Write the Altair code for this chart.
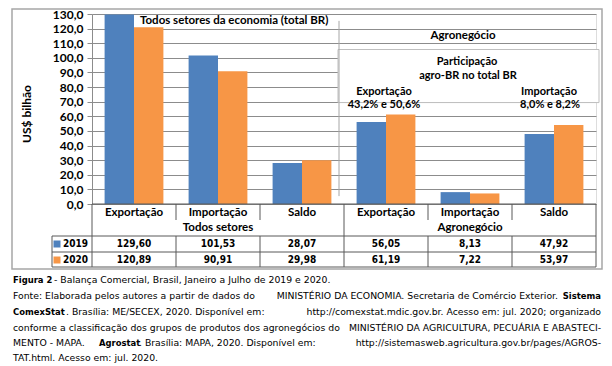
import altair as alt
import pandas as pd

# ---------------- data ----------------
keys = ["T_Exp", "T_Imp", "T_Sal", "A_Exp", "A_Imp", "A_Sal"]
cat_labels = ["Exportação", "Importação", "Saldo", "Exportação", "Importação", "Saldo"]
years = ["2019", "2020"]
v2019 = [129.60, 101.53, 28.07, 56.05, 8.13, 47.92]
v2020 = [120.89, 90.91, 29.98, 61.19, 7.22, 53.97]
groups = ["Todos setores", "Agronegócio"]
group_center_keys = ["T_Imp", "A_Imp"]
y_ticks = list(range(0, 131, 10))

# caption segments: (text, weight, align, x)
caption_lines = [
    [("Figura 2", "bold", "left", -79), ("- Balança Comercial, Brasil, Janeiro a Julho de 2019 e 2020.", "normal", "left", -38)],
    [("Fonte: Elaborada pelos autores a partir de dados do", "normal", "left", -79),
     ("MINISTÉRIO DA ECONOMIA. Secretaria de Comércio Exterior.", "normal", "right", 466),
     ("Sistema", "bold", "right", 509)],
    [("ComexStat", "bold", "left", -79), (". Brasília: ME/SECEX, 2020. Disponível em:", "normal", "left", -26),
     ("http://comexstat.mdic.gov.br. Acesso em: jul. 2020; organizado", "normal", "right", 509)],
    [("conforme a classificação dos grupos de produtos dos agronegócios do", "normal", "left", -79),
     ("MINISTÉRIO DA AGRICULTURA, PECUÁRIA E ABASTECI-", "normal", "right", 509)],
    [("MENTO  -  MAPA.", "normal", "left", -79), ("Agrostat", "bold", "left", 7),
     (". Brasília: MAPA, 2020. Disponível em:", "normal", "left", 47),
     ("http://sistemasweb.agricultura.gov.br/pages/AGROS-", "normal", "right", 509)],
    [("TAT.html. Acesso em: jul. 2020.", "normal", "left", -79)],
]
caption_y = [266, 282, 298, 314, 329, 344]

# ---------------- tables ----------------
bars = pd.DataFrame({
    "key": keys * 2,
    "year": ["2019"] * 6 + ["2020"] * 6,
    "value": v2019 + v2020,
})
cats = pd.DataFrame({"key": keys, "label": cat_labels,
                     "t2019": [f"{v:.2f}".replace(".", ",") for v in v2019],
                     "t2020": [f"{v:.2f}".replace(".", ",") for v in v2020]})
grp = pd.DataFrame({"key": group_center_keys, "label": groups})
one = pd.DataFrame({"_": [0]})

BLUE = "#4F81BD"
ORANGE = "#F79646"
LAB = "Lato"
TAB = "DejaVu Sans Condensed"
CAP = "DejaVu Sans"
CAPB = "DejaVu Sans Condensed"
GRID = "#8c8c8c"
TLINE = "#595959"

xscale = alt.Scale(domain=keys, paddingInner=0.3, paddingOuter=0.15)
yscale = alt.Scale(domain=[0, 130], nice=False, zero=True)
yaxis = alt.Axis(
    values=y_ticks, tickCount=14, title=None, grid=True, gridColor=GRID, gridWidth=1,
    domainColor=GRID, tickColor=GRID, tickSize=5, labelPadding=4, labelOverlap=False,
    labelFont=LAB, labelFontWeight="bold", labelFontSize=12, labelColor="black",
    labelExpr="replace(format(datum.value, '.1f'), '.', ',')")


def X():
    return alt.X("key:N", scale=xscale, axis=None, sort=keys)


def YD(v):
    return alt.Y(datum=v, scale=yscale, axis=yaxis)


layers = []

# outer border
layers.append(alt.Chart(one).mark_rect(fill=None, stroke="#a6a6a6", strokeWidth=1.5).encode(
    x=alt.value(-80), x2=alt.value(510), y=alt.value(-5), y2=alt.value(255)))

# bars with y axis
layers.append(alt.Chart(bars).mark_bar().encode(
    x=X(),
    xOffset=alt.XOffset("year:N", sort=years),
    y=alt.Y("value:Q", scale=yscale, axis=yaxis),
    color=alt.Color("year:N", scale=alt.Scale(domain=years, range=[BLUE, ORANGE]), legend=None),
))

# box (annotation) covering gridlines
layers.append(alt.Chart(one).mark_rect(fill="white", stroke="#bfbfbf", strokeWidth=1).encode(
    x=alt.value(246), x2=alt.value(507), y=YD(105.7), y2=alt.Y2(datum=69.4)))

# separator line inside plot
layers.append(alt.Chart(one).mark_rule(color="#a6a6a6", strokeWidth=1).encode(
    x=alt.value(247), y=YD(125.3), y2=alt.Y2(datum=5.4)))


def ann(text, x, yv, align="center", size=11.5):
    return alt.Chart(one).mark_text(text=text, font=LAB, fontWeight="bold", fontSize=size,
                                    align=align, baseline="middle", color="black").encode(
        x=alt.value(x), y=YD(yv))


layers.append(ann("Todos setores da economia (total BR)", 48, 125.3, align="left"))
layers.append(ann("Agronegócio", 371, 115.2))
layers.append(ann("Participação", 375, 97.0, size=11))
layers.append(ann("agro-BR no total BR", 376, 87.8, size=11))
layers.append(ann("Exportação", 292, 76.4, size=11))
layers.append(ann("43,2% e 50,6%", 292, 67.4, size=11))
layers.append(ann("Importação", 457, 76.4, size=11))
layers.append(ann("8,0% e 8,2%", 458, 67.4, size=11))

# y title
layers.append(alt.Chart(one).mark_text(text="US$ bilhão", font=LAB, fontWeight="bold", fontSize=12,
                                       angle=270, align="center", baseline="middle").encode(
    x=alt.value(-65), y=alt.value(100)))

# table lines
def rule(x1, x2, y1, y2):
    return alt.Chart(one).mark_rule(color=TLINE, strokeWidth=1).encode(
        x=alt.value(x1), x2=alt.value(x2), y=alt.value(y1), y2=alt.value(y2))


layers.append(rule(0, 504, 190, 190))
for yy in [222, 238, 253]:
    layers.append(rule(-40, 504, yy, yy))
for xx in [0, 252, 504]:
    layers.append(rule(xx, xx, 190, 253))
for xx in [84, 168, 336, 420]:
    layers.append(rule(xx, xx, 190, 206))
    layers.append(rule(xx, xx, 222, 253))
layers.append(rule(-40, -40, 222, 253))

# table texts
layers.append(alt.Chart(cats).mark_text(font=LAB, fontWeight="bold", fontSize=11.5, baseline="middle").encode(
    x=X(), y=alt.value(199), text="label:N"))
layers.append(alt.Chart(grp).mark_text(font=LAB, fontWeight="bold", fontSize=11.5, baseline="middle").encode(
    x=X(), y=alt.value(214), text="label:N"))
layers.append(alt.Chart(cats).mark_text(font=TAB, fontWeight="bold", fontSize=10, baseline="middle").encode(
    x=X(), y=alt.value(230), text="t2019:N"))
layers.append(alt.Chart(cats).mark_text(font=TAB, fontWeight="bold", fontSize=10, baseline="middle").encode(
    x=X(), y=alt.value(246), text="t2020:N"))

# legend cells
for yr, col, yy in [("2019", BLUE, 230), ("2020", ORANGE, 246)]:
    layers.append(alt.Chart(one).mark_square(size=49, color=col, opacity=1).encode(
        x=alt.value(-35), y=alt.value(yy)))
    layers.append(alt.Chart(one).mark_text(text=yr, font=TAB, fontWeight="bold", fontSize=10,
                                           align="left", baseline="middle").encode(
        x=alt.value(-29), y=alt.value(yy)))

# caption
for segs, yy in zip(caption_lines, caption_y):
    for txt, wt, al, xx in segs:
        if wt == "bold":
            fnt, fs = CAPB, 9.4
        else:
            fnt, fs = CAP, 9.3
        layers.append(alt.Chart(one).mark_text(text=txt, font=fnt, fontWeight=wt, fontSize=fs,
                                               align=al, baseline="middle", color="black").encode(
            x=alt.value(xx), y=alt.value(yy)))

chart = alt.layer(*layers).properties(
    width=504, height=190,
    autosize=alt.AutoSizeParams(type="none"),
    padding={"left": 84, "top": 6, "right": 8, "bottom": 162},
).configure_view(strokeWidth=0).configure(background="white")

chart.save("out.html", embed_options={"renderer": "svg", "actions": False})
